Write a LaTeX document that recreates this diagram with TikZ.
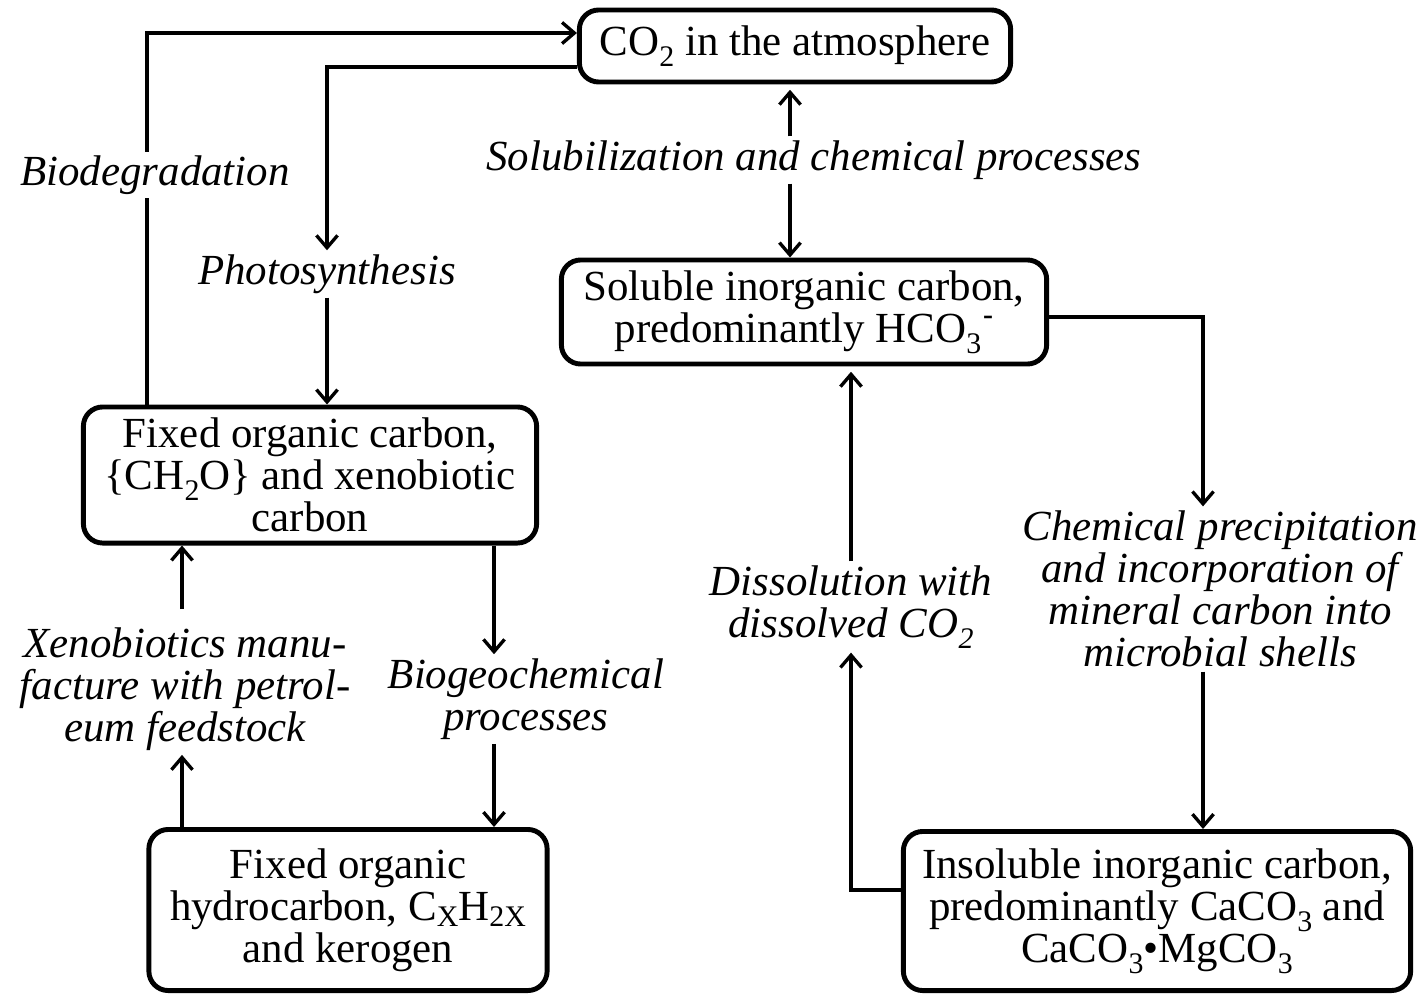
\documentclass[tikz,border=0pt]{standalone}
\usepackage{fontspec}
\setmainfont{Liberation Serif}
\usetikzlibrary{arrows.meta}
\newcommand{\cyclefont}{\fontsize{12.2}{12}\selectfont}
\newcommand{\chemsub}[1]{\raisebox{-0.55ex}{\fontsize{8.5}{8.5}\selectfont#1}}
\newcommand{\chemsup}[1]{\raisebox{0.9ex}{\fontsize{8.5}{8.5}\selectfont\bfseries#1}}
\newcommand{\indexsub}[1]{\raisebox{-0.3ex}{\fontsize{8.5}{8.5}\selectfont#1}}

\begin{document}
\begin{tikzpicture}[x=0.01cm,y=-0.01cm,
	box/.style={draw,line width=1.4pt,rounded corners=5.5pt,align=center,inner sep=0pt,font=\cyclefont},
	lab/.style={align=center,inner sep=1pt,font=\cyclefont\itshape},
	flow/.style={line width=0.95pt,-{Straight Barb[length=3.5pt,width=6pt]}}]
	\useasboundingbox (0,0) rectangle (1419,997);
	
	% carbon pools
	\node[box,minimum width=4.31cm,minimum height=0.72cm] (co2) at (795,46) {CO\chemsub{2} in the atmosphere};
	\node[box,minimum width=4.85cm,minimum height=1.04cm] (sol) at (804,312) {Soluble inorganic carbon,\\predominantly HCO\chemsub{3}\kern0.5pt\chemsup{-}};
	\node[box,minimum width=4.53cm,minimum height=1.36cm] (fix) at (310,475) {Fixed organic carbon,\\\{CH\chemsub{2}O\} and xenobiotic\\carbon};
	\node[box,minimum width=3.98cm,minimum height=1.61cm] (hyd) at (348,910) {Fixed organic\\hydrocarbon, C\indexsub{X}H\indexsub{2X}\\and kerogen};
	\node[box,minimum width=5.07cm,minimum height=1.59cm] (ins) at (1157,911) {Insoluble inorganic carbon,\\predominantly CaCO\chemsub{3} and\\CaCO\chemsub{3}\textbullet MgCO\chemsub{3}};
	
	% processes
	\node[lab] (photo) at (327,274) {Photosynthesis};
	\node[lab] (solub) at (814,160) {Solubilization and chemical processes};
	\node[lab] (xeno) at (185,689) {Xenobiotics manu-\\facture with petrol-\\eum feedstock};
	\node[lab] (biogeo) at (526,699) {Biogeochemical\\processes};
	\node[lab] (diss) at (851,607) {Dissolution with\\dissolved CO\chemsub{2}};
	\node[lab] (chem) at (1220,589) {Chemical precipitation\\and incorporation of\\mineral carbon into\\microbial shells};
	
	\coordinate (bd) at (147,33);
	\coordinate (ph) at (327,67);
	\coordinate (sv) at (790,160);
	\coordinate (rt) at (1203,317);
	\coordinate (dl) at (851,890);
	\coordinate (xv) at (182,689);
	\coordinate (bv) at (494,699);
	
	\draw[flow] (fix.north -| bd) -- (bd) -- (co2.west |- bd);
	\node[lab,fill=white] (bio) at (155,175) {Biodegradation};
	\draw[flow] (co2.west |- ph) -- (ph) -- (photo.north);
	\draw[flow] (photo.south) -- (fix.north -| photo.south);
	\draw[flow,shorten >=1.5pt] (solub.north -| sv) -- (co2.south -| sv);
	\draw[flow] (solub.south -| sv) -- (sol.north -| sv);
	\draw[flow] (sol.east |- rt) -- (rt) -- (chem.north -| rt);
	\draw[flow] (chem.south -| rt) -- (ins.north -| rt);
	\draw[flow] (ins.west |- dl) -- (dl) -- (diss.south);
	\draw[flow,shorten >=1.5pt] (diss.north) -- (sol.south -| diss.north);
	\draw[flow] (hyd.north -| xv) -- (xeno.south -| xv);
	\draw[flow,shorten <=4pt] (xeno.north -| xv) -- (fix.south -| xv);
	\draw[flow] (fix.south -| bv) -- (biogeo.north -| bv);
	\draw[flow] (biogeo.south -| bv) -- (hyd.north -| bv);
\end{tikzpicture}
\end{document}
